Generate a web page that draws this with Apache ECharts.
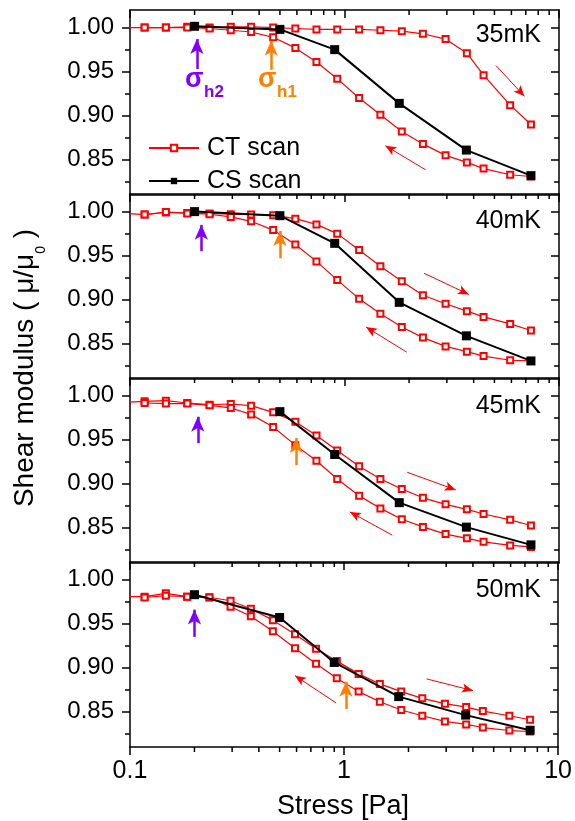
<!DOCTYPE html>
<html><head><meta charset="utf-8">
<script src="https://cdn.jsdelivr.net/npm/echarts@6/dist/echarts.min.js"></script>
<style>html,body{margin:0;padding:0;background:#fff}#c{width:575px;height:821px}</style>
</head><body><div id="c"></div>
<script>
// ---------- data ----------
const panelLabels = ['35mK', '40mK', '45mK', '50mK'];
const ctStressUp = [0.093, 0.117, 0.147, 0.185, 0.235, 0.295, 0.367, 0.465, 0.59, 0.74, 0.925, 1.17, 1.47, 1.85, 2.32, 2.96, 3.72, 4.45, 5.92, 7.4];
const ctStressDown = [0.117, 0.147, 0.185, 0.235, 0.295, 0.367, 0.465, 0.59, 0.74, 0.925, 1.17, 1.47, 1.85, 2.32, 2.96, 3.72, 4.45, 5.92, 7.4];

const ctUp35 = [1.000, 1.000, 1.000, 1.001, 1.000, 1.001, 1.001, 1.000, 0.999, 0.998, 0.998, 0.998, 0.997, 0.996, 0.993, 0.987, 0.971, 0.946, 0.912, 0.890];
const ctDown35 = [1.000, 1.000, 1.000, 0.999, 0.997, 0.995, 0.989, 0.977, 0.961, 0.942, 0.920, 0.901, 0.882, 0.868, 0.855, 0.847, 0.840, 0.833, 0.831];
const ctUp40 = [0.998, 0.9966, 0.999, 0.9985, 0.998, 0.997, 0.9966, 0.996, 0.992, 0.9855, 0.975, 0.9565, 0.938, 0.921, 0.905, 0.8954, 0.887, 0.8805, 0.8725, 0.865];
const ctDown40 = [0.9966, 0.9996, 0.998, 0.997, 0.994, 0.989, 0.979, 0.9626, 0.9435, 0.9225, 0.901, 0.884, 0.869, 0.857, 0.847, 0.841, 0.836, 0.8313, 0.8305];
const ctUp45 = [0.9924, 0.9935, 0.9943, 0.9916, 0.9897, 0.9905, 0.9886, 0.981, 0.9704, 0.9548, 0.9377, 0.9199, 0.9054, 0.894, 0.884, 0.8766, 0.8709, 0.8656, 0.859, 0.8526];
const ctDown45 = [0.9916, 0.991, 0.991, 0.989, 0.986, 0.9787, 0.9643, 0.9438, 0.926, 0.9054, 0.8864, 0.872, 0.8596, 0.851, 0.8428, 0.838, 0.834, 0.830, 0.8283];
const ctUp50 = [0.9806, 0.9806, 0.9844, 0.9806, 0.980, 0.976, 0.967, 0.954, 0.938, 0.9216, 0.9075, 0.893, 0.8816, 0.8729, 0.8652, 0.8592, 0.8553, 0.8508, 0.8455, 0.8409];
const ctDown50 = [0.9798, 0.9817, 0.9806, 0.9798, 0.9692, 0.9585, 0.9414, 0.922, 0.9045, 0.888, 0.8729, 0.8614, 0.852, 0.8455, 0.839, 0.8356, 0.8321, 0.8287, 0.8276];

const csStress = [0.2, 0.5, 0.9, 1.8, 3.7, 7.4];
const cs35 = [1.0015, 0.998, 0.975, 0.914, 0.861, 0.832];
const cs40 = [1.000, 0.9954, 0.964, 0.897, 0.859, 0.8305];
const cs45 = [null, 0.9818, 0.9332, 0.8785, 0.8507, 0.8306];
const cs50 = [0.9829, 0.957, 0.906, 0.8672, 0.8462, 0.829];

// annotation arrows: [x, yTail, yHead]
const sigmaH2Arrows = [[0.205, 0.953, 0.987], [0.215, 0.955, 0.985], [0.207, 0.946, 0.976], [0.20, 0.935, 0.966]];
const sigmaH1Arrows = [[0.455, 0.952, 0.985], [0.50, 0.947, 0.978], [0.596, 0.921, 0.952], [1.02, 0.853, 0.884]];
// direction arrows: [xTail, yTail, xHead, yHead]
const incArrows = [[5.08, 0.957, 6.9, 0.922], [2.35, 0.930, 3.8, 0.906], [1.96, 0.913, 3.3, 0.893], [2.43, 0.8873, 4.0, 0.874]];
const decArrows = [[2.39, 0.8386, 1.55, 0.866], [1.95, 0.8405, 1.26, 0.869], [1.67, 0.8416, 1.06, 0.868], [0.918, 0.86, 0.59, 0.891]];

// ticks
const yTickValues = [0.85, 0.90, 0.95, 1.00];
const yMinorValues = [0.825, 0.875, 0.925, 0.975];
const xMinorValues = [0.2, 0.3, 0.4, 0.5, 0.6, 0.7, 0.8, 0.9, 2, 3, 4, 5, 6, 7, 8, 9];

const ctUp = [ctUp35, ctUp40, ctUp45, ctUp50];
const ctDown = [ctDown35, ctDown40, ctDown45, ctDown50];
const csVals = [cs35, cs40, cs45, cs50];

// ---------- layout ----------
const FONT = '"Liberation Sans", Arial, Helvetica, sans-serif';
const tops = [10, 194, 378, 562];
const PH = 185;
const YMIN = 0.81, YMAX = 1.02;
const RED = '#ff0000', PURPLE = '#8000ff', ORANGE = '#ff8000';

const grid = [], xAxis = [], yAxis = [], series = [];

tops.forEach((t, i) => {
  const last = i === 3;
  grid.push({ left: 130, right: 16, top: t, height: PH, containLabel: false });
  xAxis.push({
    type: 'log', logBase: 10, min: 0.1, max: 10, gridIndex: i, position: 'bottom',
    axisLine: { show: true, onZero: false, lineStyle: { color: '#000', width: 1.5 } },
    axisTick: { show: last, inside: false, length: 8, lineStyle: { color: '#000', width: 1.5 } },
    axisLabel: { show: last, fontSize: 25, color: '#000', fontFamily: FONT, margin: 12,
      formatter: v => (v < 1 ? String(v) : String(Math.round(v))) },
    splitLine: { show: false }, minorTick: { show: false }
  });
  xAxis.push({
    type: 'log', logBase: 10, min: 0.1, max: 10, gridIndex: i, position: 'top',
    axisLine: { show: true, onZero: false, lineStyle: { color: '#000', width: 1.5 } },
    axisTick: { show: true, inside: true, length: 8, lineStyle: { color: '#000', width: 1.5 } },
    axisLabel: { show: false }, splitLine: { show: false }
  });
  const yBase = { type: 'value', min: YMIN, max: YMAX, gridIndex: i, splitLine: { show: false } };
  yAxis.push(Object.assign({}, yBase, {
    position: 'left',
    axisLine: { show: true, onZero: false, lineStyle: { color: '#000', width: 1.5 } },
    axisTick: { show: true, inside: false, length: 8, customValues: yTickValues, lineStyle: { color: '#000', width: 1.5 } },
    axisLabel: { show: true, customValues: yTickValues, fontSize: 24, color: '#000', fontFamily: FONT, margin: 16,
      formatter: v => v.toFixed(2) }
  }));
  yAxis.push(Object.assign({}, yBase, {
    position: 'left', axisLine: { show: false },
    axisTick: { show: true, inside: false, length: 5, customValues: yMinorValues, lineStyle: { color: '#000', width: 1.5 } },
    axisLabel: { show: false }
  }));
  yAxis.push(Object.assign({}, yBase, {
    position: 'right',
    axisLine: { show: true, onZero: false, lineStyle: { color: '#000', width: 1.5 } },
    axisTick: { show: true, inside: true, length: 8, customValues: yTickValues, lineStyle: { color: '#000', width: 1.5 } },
    axisLabel: { show: false }
  }));
  yAxis.push(Object.assign({}, yBase, {
    position: 'right', axisLine: { show: false },
    axisTick: { show: true, inside: true, length: 5, customValues: yMinorValues, lineStyle: { color: '#000', width: 1.5 } },
    axisLabel: { show: false }
  }));

  const xi = 2 * i, yi = 4 * i;
  const ctStyle = {
    type: 'line', name: 'CT scan', xAxisIndex: xi, yAxisIndex: yi,
    symbol: 'emptyRect', symbolSize: 6, showAllSymbol: true,
    lineStyle: { color: RED, width: 1.2 },
    itemStyle: { color: RED, borderColor: RED, borderWidth: 1.1 },
    z: 2, animation: false, silent: true
  };
  const inc = incArrows[i], dec = decArrows[i];
  series.push(Object.assign({}, ctStyle, {
    data: ctStressUp.map((x, k) => [x, ctUp[i][k]]),
    markLine: {
      silent: true, animation: false, symbol: ['none', 'arrow'], symbolSize: [7, 11],
      label: { show: false },
      lineStyle: { color: RED, width: 1, type: 'solid' },
      data: [
        [{ coord: [inc[0], inc[1]] }, { coord: [inc[2], inc[3]] }],
        [{ coord: [dec[0], dec[1]] }, { coord: [dec[2], dec[3]] }]
      ]
    }
  }));
  series.push(Object.assign({}, ctStyle, {
    data: ctStressDown.map((x, k) => [x, ctDown[i][k]])
  }));
  const h2 = sigmaH2Arrows[i], h1 = sigmaH1Arrows[i];
  series.push({
    type: 'line', name: 'CS scan', xAxisIndex: xi, yAxisIndex: yi,
    data: csStress.map((x, k) => [x, csVals[i][k]]),
    symbol: 'rect', symbolSize: 9,
    lineStyle: { color: '#000', width: 2 },
    itemStyle: { color: '#000' },
    z: 3, animation: false, silent: true,
    markLine: {
      silent: true, animation: false, symbol: ['none', 'arrow'], symbolSize: [10, 15],
      label: { show: false },
      data: [
        [{ coord: [h2[0], h2[1]], lineStyle: { color: PURPLE, width: 2.5, type: 'solid' } }, { coord: [h2[0], h2[2]] }],
        [{ coord: [h1[0], h1[1]], lineStyle: { color: ORANGE, width: 2.5, type: 'solid' } }, { coord: [h1[0], h1[2]] }]
      ]
    }
  });
  series.push({
    type: 'custom', xAxisIndex: xi, yAxisIndex: yi, silent: true, clip: false, z: 10,
    animation: false,
    data: xMinorValues.map(v => [v, YMAX]),
    encode: { x: 0, y: 1 },
    renderItem: function (params, api) {
      const v = api.value(0);
      const pt = api.coord([v, YMAX]);
      const pb = api.coord([v, YMIN]);
      const st = { stroke: '#000', lineWidth: 1.5 };
      const ch = [{ type: 'line', shape: { x1: pt[0], y1: pt[1], x2: pt[0], y2: pt[1] + 5 }, style: st }];
      if (last) ch.push({ type: 'line', shape: { x1: pb[0], y1: pb[1], x2: pb[0], y2: pb[1] + 5 }, style: st });
      return { type: 'group', children: ch };
    }
  });
});

// ---------- text graphics ----------
const labelY = [35, 221, 406, 590];
const graphic = [];
panelLabels.forEach((s, i) => {
  graphic.push({ type: 'text', x: 541, y: labelY[i], style: { text: s, font: '25px ' + FONT, fill: '#000', align: 'right', verticalAlign: 'middle' } });
});
function sigma(x, color, sub) {
  graphic.push({ type: 'text', x: x, y: 80, style: { text: 'σ', font: 'bold 27px ' + FONT, fill: color, align: 'left', verticalAlign: 'middle' } });
  graphic.push({ type: 'text', x: x + 19, y: 92, style: { text: sub, font: 'bold 17px ' + FONT, fill: color, align: 'left', verticalAlign: 'middle' } });
}
sigma(185, PURPLE, 'h2');
sigma(258, ORANGE, 'h1');
graphic.push({ type: 'text', x: 343, y: 807, style: { text: 'Stress [Pa]', font: '27px ' + FONT, fill: '#000', align: 'center', verticalAlign: 'middle' } });
graphic.push({
  type: 'text', x: 25, y: 368, rotation: Math.PI / 2,
  style: {
    text: 'Shear modulus ( μ/μ{sub|0} )', font: '28px ' + FONT, fill: '#000', align: 'center', verticalAlign: 'middle',
    lineHeight: 46,
    rich: { sub: { fontSize: 14, fontFamily: FONT, fill: '#000', verticalAlign: 'bottom', lineHeight: 14 } }
  }
});

const chart = echarts.init(document.getElementById('c'), null, { renderer: 'canvas' });
chart.setOption({
  backgroundColor: '#fff',
  animation: false,
  grid, xAxis, yAxis, series,
  legend: {
    data: ['CT scan', 'CS scan'], orient: 'vertical', left: 143, top: 128,
    itemWidth: 50, itemHeight: 8, itemGap: 3, selectedMode: false,
    textStyle: { fontSize: 25, color: '#000', fontFamily: FONT, lineHeight: 30, padding: [0, 0, 0, 3] }
  },
  graphic
});
</script></body></html>
